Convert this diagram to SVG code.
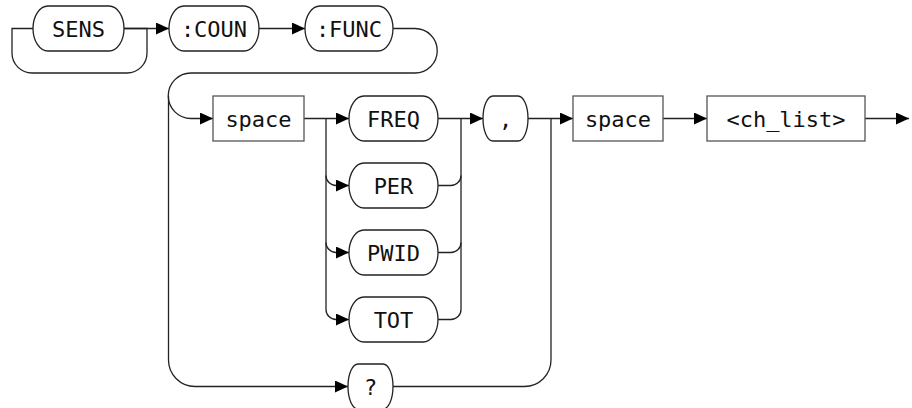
<svg xmlns="http://www.w3.org/2000/svg" width="912" height="408" viewBox="0 0 912 408">
<style>
.t{font-family:"DejaVu Sans Mono","Liberation Mono",monospace;font-size:22px;fill:#111;text-anchor:middle}
.st{fill:#fff;stroke:#222;stroke-width:1.3}
.bx{fill:#fff;stroke:#555;stroke-width:1.3}
.c{fill:none;stroke:#222;stroke-width:1.3}
</style>
<defs>
<marker id="ar" markerUnits="userSpaceOnUse" markerWidth="14" markerHeight="13" refX="13" refY="6" orient="auto">
<path d="M0,0 L13,6 L0,12 z" fill="#000"/>
</marker>
</defs>
<g id="connectors">
<path class="c" d="M124,28.5 H147 V53 A20,20 0 0 1 127,73 H32 A20,20 0 0 1 12,53 V28.5 H33"/>
<path class="c" d="M124,28.5 H169" marker-end="url(#ar)"/>
<path class="c" d="M259,28.5 H305" marker-end="url(#ar)"/>
<path class="c" d="M393,28.5 H415 A22.25,22.25 0 0 1 415,73 H191 A22.75,22.75 0 0 0 191,118.5 H213" marker-end="url(#ar)"/>
<path class="c" d="M168.5,95.75 V360 A26.5,26.5 0 0 0 195,386.5 H348" marker-end="url(#ar)"/>
<path class="c" d="M304,118.5 H349" marker-end="url(#ar)"/>
<path class="c" d="M326,118.5 V309.5 A10,10 0 0 0 336,319.5 H349" marker-end="url(#ar)"/>
<path class="c" d="M326,175.5 A10,10 0 0 0 336,185.5 H349" marker-end="url(#ar)"/>
<path class="c" d="M326,242.5 A10,10 0 0 0 336,252.5 H349" marker-end="url(#ar)"/>
<path class="c" d="M438,118.5 H483" marker-end="url(#ar)"/>
<path class="c" d="M438,319.5 H451 A10,10 0 0 0 461,309.5 V118.5"/>
<path class="c" d="M438,185.5 H451 A10,10 0 0 0 461,175.5"/>
<path class="c" d="M438,252.5 H451 A10,10 0 0 0 461,242.5"/>
<path class="c" d="M528,118.5 H573" marker-end="url(#ar)"/>
<path class="c" d="M393,386.5 H524.5 A26.5,26.5 0 0 0 551,360 V118.5"/>
<path class="c" d="M663,118.5 H707" marker-end="url(#ar)"/>
<path class="c" d="M865,118.5 H909" marker-end="url(#ar)"/>
</g>
<g id="sens"><rect class="st" x="33" y="6" width="91" height="45" rx="15" ry="22.5"/><text class="t" x="78.5" y="36.5">SENS</text></g>
<g id="coun"><rect class="st" x="169" y="6" width="90" height="45" rx="15" ry="22.5"/><text class="t" x="214" y="36.5">:COUN</text></g>
<g id="func"><rect class="st" x="305" y="6" width="88" height="45" rx="15" ry="22.5"/><text class="t" x="349" y="36.5">:FUNC</text></g>
<g id="space1"><rect class="bx" x="213" y="96" width="91" height="45"/><text class="t" x="258.5" y="126.5">space</text></g>
<g id="freq"><rect class="st" x="349" y="96" width="89" height="45" rx="15" ry="22.5"/><text class="t" x="393.5" y="126.5">FREQ</text></g>
<g id="per"><rect class="st" x="349" y="163" width="89" height="45" rx="15" ry="22.5"/><text class="t" x="393.5" y="193.5">PER</text></g>
<g id="pwid"><rect class="st" x="349" y="230" width="89" height="45" rx="15" ry="22.5"/><text class="t" x="393.5" y="260.5">PWID</text></g>
<g id="tot"><rect class="st" x="349" y="297" width="89" height="45" rx="15" ry="22.5"/><text class="t" x="393.5" y="327.5">TOT</text></g>
<g id="query"><rect class="st" x="348" y="364" width="45" height="45" rx="10" ry="22.5"/><text class="t" x="370.5" y="394.5">?</text></g>
<g id="comma"><rect class="st" x="483" y="96" width="45" height="45" rx="10" ry="22.5"/><text class="t" x="505.5" y="126.5">,</text></g>
<g id="space2"><rect class="bx" x="573" y="96" width="90" height="45"/><text class="t" x="618" y="126.5">space</text></g>
<g id="chlist"><rect class="bx" x="707" y="96" width="158" height="45"/><text class="t" x="786" y="126.5">&lt;ch_list&gt;</text></g>
</svg>
